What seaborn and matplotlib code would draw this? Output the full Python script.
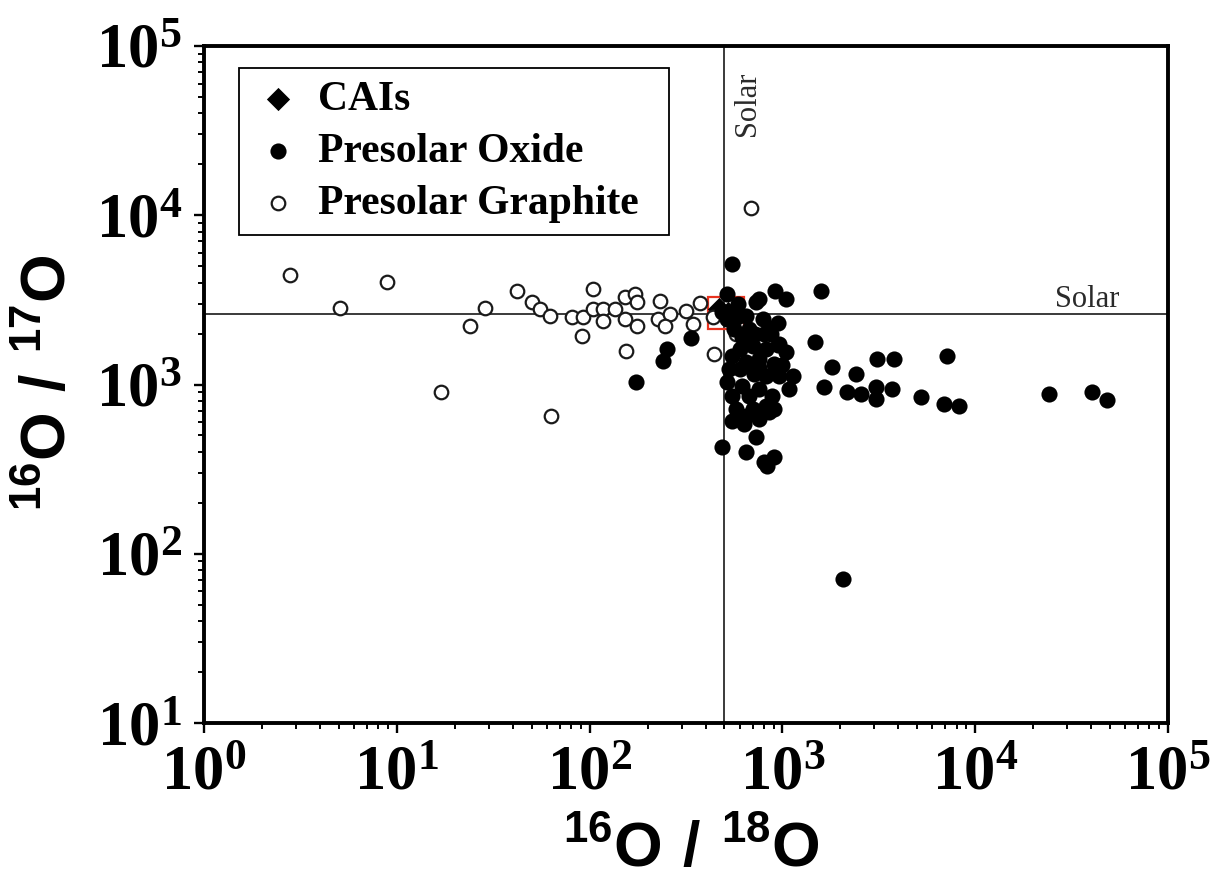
import numpy as np
import matplotlib
matplotlib.use("Agg")
import matplotlib.pyplot as plt
import matplotlib.ticker as mticker
import matplotlib.transforms as mtransforms
from matplotlib.patches import Rectangle
import seaborn as sns

# Solar reference ratios
SOLAR_16_18 = 499
SOLAR_16_17 = 2625

# CAI field around the solar composition
cai_box_x = [410, 635]
cai_box_y = [2130, 3300]

# CAIs: 16O/18O, 16O/17O
cai_18 = [470, 520]
cai_17 = [2800, 2650]

# Presolar oxide grains: 16O/18O, 16O/17O
oxide_18 = [550, 519, 489, 337, 910, 1050, 733, 650, 790, 675,
            600, 700, 826, 1050, 650, 550, 1130, 965, 826, 519,
            620, 760, 888, 551, 675, 578, 700, 826, 551, 651,
            857, 489, 733, 651, 807, 909, 836, 1590, 1480, 1815,
            1650, 2420, 2170, 2570, 3100, 3800, 3070, 3070, 3720, 5250,
            7160, 6900, 8260, 24200, 40400, 48300, 2050, 251, 239, 175,
            760, 909, 561, 807, 600, 716, 870, 580, 620, 720,
            540, 1000, 950, 760, 519, 585, 857, 965, 635, 531,
            1087, 635, 760, 950, 909, 760]
oxide_17 = [5180, 3440, 2690, 1890, 3580, 3210, 3080, 2550, 2440, 2130,
            1620, 1690, 1620, 1560, 1360, 1475, 1120, 1120, 1120, 1035,
            980, 940, 855, 855, 855, 716, 716, 746, 608, 650,
            687, 426, 489, 398, 347, 372, 329, 3580, 1790, 1270,
            966, 1150, 903, 880, 1415, 1415, 966, 820, 940, 843,
            1475, 766, 746, 880, 903, 809, 71, 1620, 1380, 1035,
            1415, 1320, 2130, 1990, 1235, 1150, 2000, 2500, 1900, 2000,
            2400, 1300, 1700, 1250, 2440, 3000, 2130, 1740, 1860, 1235,
            940, 583, 625, 2300, 716, 3210]

# Presolar graphite grains: 16O/18O, 16O/17O
graphite_18 = [2.8, 8.9, 5.1, 17, 24, 28.6, 42, 63, 50, 55,
               62, 81, 92, 91, 104, 104, 117, 117, 135, 152,
               152, 155, 171, 177, 177, 231, 225, 260, 245, 318,
               342, 376, 444, 690, 578, 434]
graphite_17 = [4450, 4050, 2840, 900, 2220, 2840, 3580, 650, 3080, 2800,
               2550, 2510, 2510, 1940, 3680, 2800, 2800, 2380, 2800, 3300,
               2440, 1580, 3440, 3080, 2220, 3130, 2440, 2620, 2220, 2730,
               2285, 3040, 1515, 11000, 1990, 2510]

sns.set_style("ticks")
plt.rcParams["mathtext.fontset"] = "custom"
plt.rcParams["mathtext.bf"] = "Liberation Serif:bold"
plt.rcParams["mathtext.rm"] = "Liberation Serif:bold"
plt.rcParams["mathtext.sf"] = "Liberation Sans:bold"
plt.rcParams["font.family"] = ["Liberation Serif", "DejaVu Sans"]
plt.rcParams["text.color"] = "black"
plt.rcParams["axes.labelcolor"] = "black"
plt.rcParams["xtick.color"] = "black"
plt.rcParams["ytick.color"] = "black"

W, H = 1227, 881
fig = plt.figure(figsize=(W / 100, H / 100), dpi=100)
fig.patch.set_facecolor("white")
ax = fig.add_axes([204 / W, (H - 723) / H, 964 / W, 677 / H])
ax.set_facecolor("white")

# solar reference lines
ax.axvline(SOLAR_16_18, color="#3a3a3a", lw=1.4, zorder=1)
ax.axhline(SOLAR_16_17, color="#3a3a3a", lw=1.4, zorder=1)

# CAI field outline
ax.add_patch(Rectangle((cai_box_x[0], cai_box_y[0]),
                       cai_box_x[1] - cai_box_x[0], cai_box_y[1] - cai_box_y[0],
                       fill=False, edgecolor="#e8321e", lw=1.6, zorder=2))

sns.scatterplot(x=cai_18, y=cai_17, ax=ax, marker="D", s=140,
                color="black", edgecolor="black", linewidth=0,
                label="CAIs", zorder=3)
sns.scatterplot(x=graphite_18, y=graphite_17, ax=ax, marker="o", s=95,
                color="white", edgecolor="#1a1a1a", linewidth=1.6,
                label="Presolar Graphite", zorder=3)
sns.scatterplot(x=oxide_18, y=oxide_17, ax=ax, marker="o", s=135,
                color="black", edgecolor="black", linewidth=0,
                label="Presolar Oxide", zorder=4)

ax.set_xscale("log")
ax.set_yscale("log")
ax.set_xlim(1, 1e5)
ax.set_ylim(10, 1e5)


def pow10(v, pos):
    return r"$\mathbf{10^{%d}}$" % int(round(np.log10(v)))


for axis in (ax.xaxis, ax.yaxis):
    axis.set_major_locator(mticker.LogLocator(base=10, numticks=10))
    axis.set_minor_locator(mticker.LogLocator(base=10, subs=np.arange(2, 10), numticks=20))
    axis.set_major_formatter(mticker.FuncFormatter(pow10))
    axis.set_minor_formatter(mticker.NullFormatter())

ax.tick_params(which="major", direction="out", length=7, width=1.7,
               labelsize=45, color="black", labelcolor="black",
               top=False, right=False)
ax.tick_params(which="minor", direction="out", length=4.5, width=1.4,
               color="black", top=False, right=False)
ax.tick_params(axis="x", which="major", pad=9)
ax.tick_params(axis="y", which="major", pad=9)

for sp in ax.spines.values():
    sp.set_linewidth(2.8)
    sp.set_color("black")

ax.set_xlabel("")
ax.set_ylabel("")
fig.text(691 / W, 1 - 851 / H, r"$\mathsf{{}^{16}O\ /\ {}^{18}O}$",
         ha="center", va="center", fontsize=45, color="black")
fig.text(50 / W, 1 - 383 / H, r"$\mathsf{{}^{16}O\ /\ {}^{17}O}$",
         ha="center", va="center", fontsize=45, rotation=90, color="black")

# "Solar" annotations along the reference lines
hx = mtransforms.blended_transform_factory(ax.transAxes, ax.transData)
ax.text(0.95, SOLAR_16_17, "Solar", transform=hx, ha="right", va="bottom",
        fontsize=22, family="Liberation Serif", color="#2a2a2a")
vx = mtransforms.blended_transform_factory(ax.transData, ax.transAxes)
ax.text(SOLAR_16_18 * 1.11, 0.962, "Solar", transform=vx, ha="left", va="top",
        rotation=90, fontsize=22, family="Liberation Serif", color="#2a2a2a")

handles, labels = ax.get_legend_handles_labels()
order = [labels.index(n) for n in ["CAIs", "Presolar Oxide", "Presolar Graphite"]]
leg = ax.legend([handles[i] for i in order], [labels[i] for i in order],
                loc="upper left", bbox_to_anchor=(0.0363, 0.7175, 0.446, 0.25),
                mode="expand", borderaxespad=0, frameon=True, fancybox=False,
                edgecolor="black", framealpha=1,
                prop={"family": "Liberation Serif", "weight": "bold", "size": 30},
                handlelength=1.25, handletextpad=0.34, labelspacing=0.33,
                borderpad=0.3, scatterpoints=1)
leg.get_frame().set_linewidth(1.3)
for t in leg.get_texts():
    t.set_color("black")
leg.set_zorder(6)

fig.savefig("out.png", dpi=100)
